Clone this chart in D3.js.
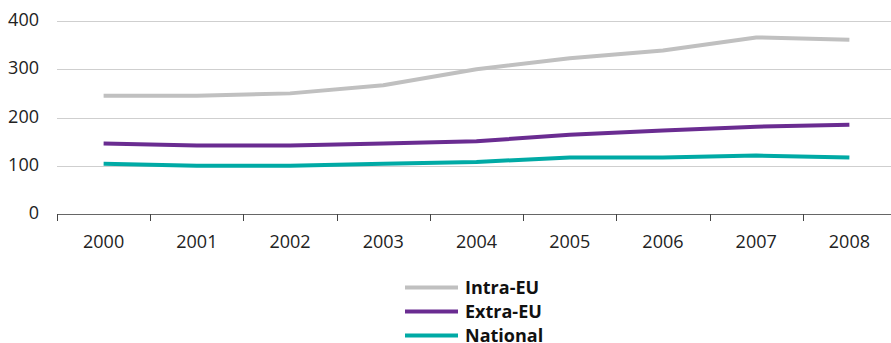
<!DOCTYPE html>
<html><head><meta charset="utf-8">
<script src="https://cdn.jsdelivr.net/npm/d3@7"></script>
<style>body{margin:0;background:#fff}svg{display:block}text{font-family:"Open Sans",sans-serif}</style>
</head><body><svg id="c" width="891" height="343"></svg>
<script>
const years = ["2000","2001","2002","2003","2004","2005","2006","2007","2008"];
const intraEU = [245,245,250,267,300,323,339,366,361];
const extraEU = [146,142,142,146,151,164,173,181,185];
const national = [104,100,100,104,108,117,117,121,117];
const yTicks = [0,100,200,300,400];
const seriesNames = ["Intra-EU","Extra-EU","National"];
const colors = ["#c0c0c0","#6a2c91","#00aaa5"];

const svg = d3.select("#c");
const x = d3.scaleBand().domain(years).range([57,896]);
const y = d3.scaleLinear().domain([0,400]).range([214,21]);

// gridlines
svg.append("g").selectAll("line").data(yTicks.filter(d=>d>0)).join("line")
  .attr("x1",57).attr("x2",891).attr("y1",d=>Math.round(y(d))+0.5).attr("y2",d=>Math.round(y(d))+0.5)
  .attr("stroke","#cfcfcf").attr("stroke-width",1);

// y labels
svg.append("g").selectAll("text").data(yTicks).join("text")
  .attr("x",39).attr("y",d=>y(d)).attr("dy","0.28em").attr("text-anchor","end")
  .attr("font-size",18).attr("fill","#222").text(d=>d);

// x axis
const xa = svg.append("g").attr("transform","translate(0,214)")
  .call(d3.axisBottom(x).tickSize(0).tickPadding(21).tickSizeOuter(0));
xa.select(".domain").attr("stroke","#666");
xa.selectAll("text").attr("font-size",18).attr("fill","#222").attr("font-family","'Open Sans',sans-serif");
// boundary ticks
svg.append("g").selectAll("line").data(years).join("line")
  .attr("x1",d=>Math.round(x(d))+0.5).attr("x2",d=>Math.round(x(d))+0.5)
  .attr("y1",214).attr("y2",221).attr("stroke","#444");

const data = [intraEU, extraEU, national];
const line = d3.line().x((d,i)=>x(years[i])+x.bandwidth()/2).y(d=>y(d));
svg.append("g").selectAll("path").data(data).join("path")
  .attr("d",line).attr("fill","none").attr("stroke",(d,i)=>colors[i])
  .attr("stroke-width",4).attr("stroke-linejoin","round");

// legend
const lg = svg.append("g").selectAll("g").data(seriesNames).join("g")
  .attr("transform",(d,i)=>`translate(0,${287.5+i*24})`);
lg.append("line").attr("x1",405).attr("x2",458).attr("y1",0).attr("y2",0)
  .attr("stroke",(d,i)=>colors[i]).attr("stroke-width",4);
lg.append("text").attr("x",465).attr("y",0).attr("dy","0.35em")
  .attr("font-size",18).attr("font-weight","bold").attr("fill","#111").text(d=>d);
</script></body></html>
